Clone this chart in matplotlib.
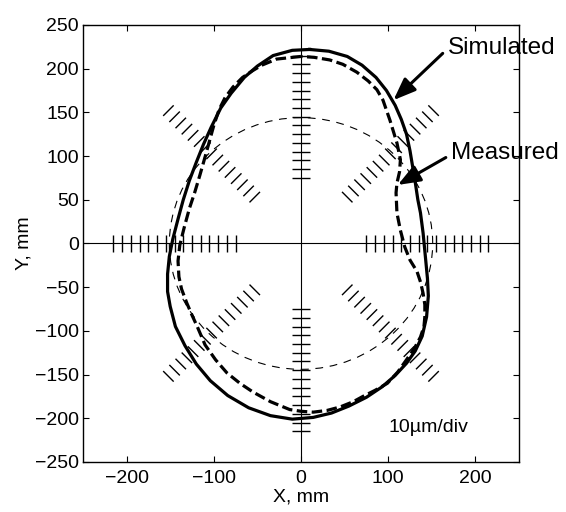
"""Simulated vs measured bore profile with 10um/div reference scales."""

from __future__ import annotations

import matplotlib

matplotlib.use("Agg")

import matplotlib.pyplot as plt
import numpy as np
from matplotlib.collections import LineCollection
from matplotlib.patches import Ellipse

# simulated profile (mm), counter-clockwise from the top
SIM_X = [10, -10, -32, -50, -65, -80, -92, -103, -112, -120, -128, -135, -141,
         -147, -151, -153, -153, -150, -144, -133, -120, -104, -84, -60, -35,
         -10, 14, 35, 55, 75, 93, 108, 121, 131, 139, 144, 146, 145, 143, 140,
         137, 134, 131, 128, 125, 121, 115, 108, 98, 86, 70, 53, 32, 10]
SIM_Y = [222, 221, 215, 203, 190, 172, 155, 133, 113, 93, 72, 50, 28,
         5, -15, -35, -55, -72, -95, -117, -138, -157, -174, -188, -197,
         -201, -199, -194, -186, -176, -164, -151, -137, -123, -106, -84, -60,
         -40, -19, 12, 35, 50, 70, 88, 106, 125, 142, 158, 175, 190, 204, 214,
         220, 222]

# measured profile (mm)
MEAS_X = [0, -28, -45, -55, -67, -78, -87, -94, -100, -105, -110, -116, -122,
          -128, -134, -139, -141, -140, -137, -131, -125, -119, -110, -98, -85,
          -70, -55, -35, -13, 0, 14, 30, 45, 60, 71, 85, 99, 111, 121, 130,
          137, 141, 142, 142, 140, 137, 133, 125, 119, 114, 110, 109, 110, 113,
          114, 110, 102, 94, 87, 77, 64, 48, 33, 15, 0]
MEAS_Y = [214, 211, 204, 198, 190, 179, 167, 153, 135, 117, 99, 78, 58,
          40, 18, -2, -20, -38, -52, -68, -82, -95, -116, -133, -148,
          -160, -170, -181, -190, -192, -193, -191, -187, -181, -175, -168,
          -160, -147, -133, -120, -107, -95, -84, -70, -57, -44, -32, -19, -4,
          15, 35, 58, 69, 82, 96, 115, 141, 164, 176, 186, 196, 205, 210, 213,
          214]

# nominal circle (mm)
NOMINAL_WIDTH = 302
NOMINAL_HEIGHT = 288

# 10 um/div scale marks: radial positions and directions
SCALE_R = [75, 85, 95, 105, 115, 125, 135, 145, 155, 165, 175, 185, 195, 205, 215]
SCALE_ANGLES = [0, 45, 90, 135, 180, 225, 270, 315]

TICKS_X = [-200, -100, 0, 100, 200]
TICKS_Y = [-250, -200, -150, -100, -50, 0, 50, 100, 150, 200, 250]

FONT = ["Liberation Sans", "DejaVu Sans"]


def _scale_segments(half_straight: float, half_diag: float) -> list:
    """Short marks perpendicular to each radial direction."""
    segments = []
    for angle in SCALE_ANGLES:
        theta = np.deg2rad(angle)
        ux, uy = np.cos(theta), np.sin(theta)
        px, py = -uy, ux
        half = half_straight if angle % 90 == 0 else half_diag
        for r in SCALE_R:
            cx, cy = r * ux, r * uy
            segments.append([(cx - half * px, cy - half * py),
                             (cx + half * px, cy + half * py)])
    return segments


def main() -> None:
    plt.rcParams["font.family"] = FONT
    fig = plt.figure(figsize=(5.66, 5.12), dpi=100)
    ax = fig.add_axes([0.1466, 0.0977, 0.7704, 0.8535])

    ax.axhline(0, color="black", lw=0.8, zorder=1)
    ax.axvline(0, color="black", lw=0.8, zorder=1)

    ax.add_collection(LineCollection(_scale_segments(10, 8.5), colors="black",
                                     linewidths=1.0, zorder=2))

    ax.add_patch(Ellipse((0, 0), NOMINAL_WIDTH, NOMINAL_HEIGHT, fill=False,
                         ec="black", lw=0.8, ls=(0, (7, 6)), zorder=2))

    ax.plot(SIM_X, SIM_Y, color="black", lw=2.3, zorder=3,
            solid_joinstyle="round")
    ax.plot(MEAS_X, MEAS_Y, color="black", lw=2.3, ls=(0, (3.3, 1.4)), zorder=3)

    arrow = dict(arrowstyle="-|>,head_length=0.9,head_width=0.35",
                 color="black", lw=2.2, mutation_scale=15,
                 shrinkA=2, shrinkB=0, relpos=(0, 0.45))
    ax.annotate("Simulated", xy=(106, 164), xytext=(168, 224),
                ha="left", va="center", fontsize=17.5, arrowprops=arrow)
    ax.annotate("Measured", xy=(111, 67), xytext=(172, 103),
                ha="left", va="center", fontsize=17.5, arrowprops=arrow)

    ax.text(100, -211, "10\u00b5m/div", ha="left", va="center", fontsize=14)

    ax.set_xlim(-250, 250)
    ax.set_ylim(-250, 250)
    ax.set_xticks(TICKS_X)
    ax.set_yticks(TICKS_Y)
    ax.tick_params(direction="in", length=4, width=0.8, top=True, right=True,
                   labelsize=14)
    ax.tick_params(axis="x", pad=6)
    ax.tick_params(axis="y", pad=3)
    for spine in ax.spines.values():
        spine.set_linewidth(1.0)

    ax.set_xlabel("X, mm", fontsize=14, labelpad=1)
    ax.set_ylabel("Y, mm", fontsize=14, labelpad=2)

    fig.savefig("out.png", dpi=100)
    plt.close(fig)


if __name__ == "__main__":
    main()
